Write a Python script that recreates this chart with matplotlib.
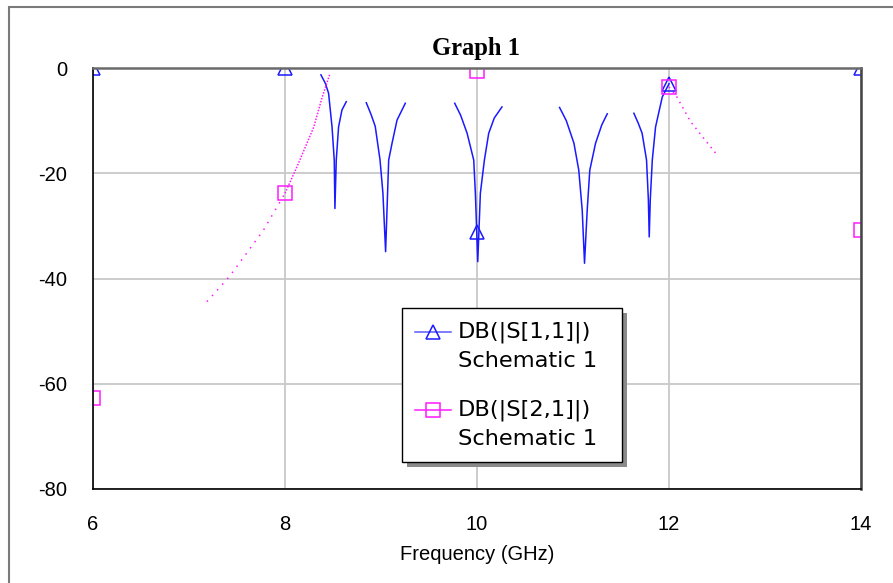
import matplotlib
matplotlib.use("Agg")
import matplotlib.pyplot as plt
from matplotlib.patches import Rectangle
from matplotlib.lines import Line2D
import numpy as np

plt.rcParams.update({
    "font.family": "sans-serif",
    "font.sans-serif": ["Liberation Sans", "DejaVu Sans"],
    "font.size": 14,
    "axes.unicode_minus": False,
})

W, H = 893, 583

# ── data ──
# S11 (dB): five resonance dips, separate traces
s11_f = [8.374, 8.42, 8.454, 8.49, 8.513, 8.52, 8.534, 8.558, 8.593, 8.638, np.nan,
         8.847, 8.90, 8.94, 8.99, 9.02, 9.048, 9.08, 9.115, 9.167, 9.253, np.nan,
         9.768, 9.83, 9.897, 9.966, 9.983, 10.008, 10.035, 10.077, 10.122, 10.18, 10.26, np.nan,
         10.86, 10.93, 11.01, 11.06, 11.096, 11.12, 11.148, 11.175, 11.235, 11.30, 11.357, np.nan,
         11.634, 11.68, 11.72, 11.766, 11.785, 11.794, 11.805, 11.826, 11.86, 11.93, 12.0]
s11_db = [-1.3, -2.9, -4.8, -11.2, -17.5, -26.7, -17.5, -11.2, -8.0, -6.4, np.nan,
          -6.6, -9.0, -11.1, -17.5, -23.8, -34.9, -17.5, -14.3, -9.9, -6.7, np.nan,
          -6.7, -9.0, -12.4, -17.5, -23.8, -36.8, -23.8, -17.5, -12.4, -9.5, -7.4, np.nan,
          -7.5, -10.0, -14.3, -19.4, -27.0, -37.1, -27.0, -19.4, -14.3, -10.8, -8.7, np.nan,
          -8.6, -10.5, -12.4, -17.5, -25.0, -32.1, -25.0, -17.5, -11.2, -5.5, -3.0]

# S21 (dB): rising skirt and falling tail
s21_lo_f = [7.186, 7.36, 7.43, 7.60, 7.776, 8.0]
s21_lo_db = [-44.4, -40.9, -39.4, -35.2, -30.8, -23.8]
s21_hi_f = [8.0, 8.124, 8.30, 8.38, 8.464]
s21_hi_db = [-23.8, -18.8, -11.2, -6.0, -1.3]
s21_tail_f = [12.0, 12.07, 12.225, 12.364, 12.496]
s21_tail_db = [-3.6, -5.1, -10.2, -13.4, -16.4]

# marker points
mark_f = [6, 8, 10, 12, 14]
s11_mark = [0, 0, -31.1, -3.0, 0]
s21_mark = [-62.8, -23.7, -0.6, -3.7, -30.8]

labels = [("DB(|S[1,1]|)", "Schematic 1"), ("DB(|S[2,1]|)", "Schematic 1")]

C_S11 = "#1a1aff"
C_S21 = "#ff1aff"


def fx(px):
    return px / W


def fy(py):
    return 1 - py / H


fig = plt.figure(figsize=(W / 100, H / 100), dpi=100)
ax = fig.add_axes([fx(93), fy(489), fx(861) - fx(93), fy(68) - fy(489)])

ax.plot(s11_f, s11_db, color=C_S11, lw=1.1)
ax.plot(s21_lo_f, s21_lo_db, color=C_S21, lw=1.1, linestyle=(0, (1, 4)))
ax.plot(s21_hi_f, s21_hi_db, color=C_S21, lw=1.1, linestyle=(0, (1, 1)))
ax.plot(s21_tail_f, s21_tail_db, color=C_S21, lw=1.1, linestyle=(0, (1, 3)))

ax.plot(mark_f, s11_mark, linestyle="none", marker="^", ms=10, mfc="none",
        mec=C_S11, mew=1.1)
ax.plot(mark_f, s21_mark, linestyle="none", marker="s", ms=9.5, mfc="none",
        mec=C_S21, mew=1.1)

ax.set_xlim(6, 14)
ax.set_ylim(-80, 0)
ax.set_xticks([6, 8, 10, 12, 14])
ax.set_yticks([0, -20, -40, -60, -80])
ax.tick_params(length=0, labelsize=14.5)
ax.tick_params(axis="y", pad=18.5)
ax.tick_params(axis="x", pad=18.5)
ax.grid(True, color="#c8c8c8", lw=1.3)
ax.set_axisbelow(True)

for side in ["left", "bottom"]:
    ax.spines[side].set_color("black")
    ax.spines[side].set_linewidth(1.2)
ax.spines["top"].set_color("#6a6a6a")
ax.spines["top"].set_linewidth(1.8)
ax.spines["right"].set_color("#444444")
ax.spines["right"].set_linewidth(1.8)

ax.set_xlabel("Frequency (GHz)", fontsize=14.5, labelpad=8.5)

fig.text(fx(476), fy(55), "Graph 1", ha="center", va="baseline",
         fontsize=17.7, fontweight="bold", family="Liberation Serif")

# outer frame
fig.add_artist(Rectangle((fx(8.5), -0.5), 2, fy(7) + 0.5, transform=fig.transFigure,
                         facecolor="none", edgecolor="#7a7a7a", lw=1.5))

# ── legend box ──
lx0, ly0, lx1, ly1 = 402, 308, 622, 462
fig.add_artist(Rectangle((fx(lx0 + 5), fy(ly1 + 5)), fx(lx1) - fx(lx0), fy(ly0) - fy(ly1),
                         transform=fig.transFigure, facecolor="#8a8a8a",
                         edgecolor="none", zorder=5))
fig.add_artist(Rectangle((fx(lx0), fy(ly1)), fx(lx1) - fx(lx0), fy(ly0) - fy(ly1),
                         transform=fig.transFigure, facecolor="white",
                         edgecolor="black", lw=1.0, zorder=6))

for (l1, l2), color, mk, ms, yy in [(labels[0], "#5a5aff", "^", 10, 332),
                                    (labels[1], C_S21, "s", 9.5, 410)]:
    fig.add_artist(Line2D([fx(415), fx(451)], [fy(yy), fy(yy)], transform=fig.transFigure,
                          color=color, lw=1.1, zorder=7))
    fig.add_artist(Line2D([fx(433)], [fy(yy)], transform=fig.transFigure, marker=mk,
                          ms=ms, mfc="none", mec=C_S11 if mk == "^" else C_S21,
                          mew=1.1, linestyle="none", zorder=7))
    fig.text(fx(458), fy(yy), l1, va="center", ha="left", fontsize=16.2,
             family="DejaVu Sans", zorder=7)
    fig.text(fx(458), fy(yy + 29), l2, va="center", ha="left", fontsize=16.2,
             family="DejaVu Sans", zorder=7)

fig.savefig("out.png", dpi=100, facecolor="white")
